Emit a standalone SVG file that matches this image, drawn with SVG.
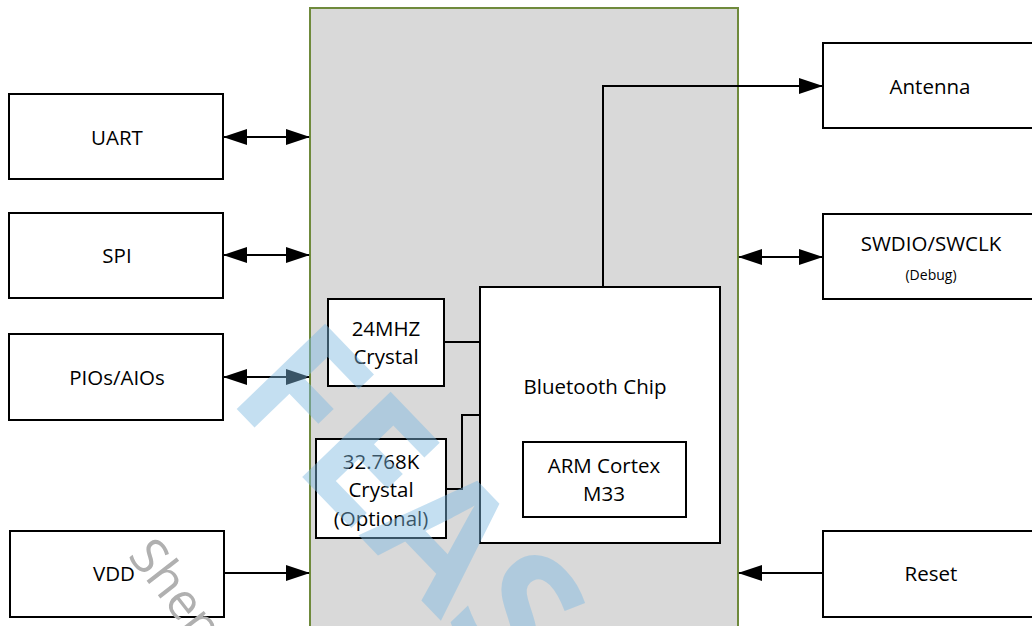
<svg xmlns="http://www.w3.org/2000/svg" width="1032" height="626" viewBox="0 0 1032 626">
<defs>
<style>
.box{fill:#fff;stroke:#000;stroke-width:2}
.lbl{font-family:"Open Sans","Liberation Sans",sans-serif;font-size:20.5px;fill:#000;text-anchor:middle;dominant-baseline:central}
.sm{font-size:14px}
.wire{fill:none;stroke:#000;stroke-width:2}
</style>
<marker id="ah" viewBox="0 0 24 16" refX="23" refY="8" markerWidth="24" markerHeight="16" markerUnits="userSpaceOnUse" orient="auto-start-reverse">
<path d="M0,0 L24,8 L0,16 Z" fill="#000"/>
</marker>
</defs>
<rect width="1032" height="626" fill="#fff"/>
<g id="module">
<rect x="310" y="8" width="428" height="630" fill="#d9d9d9" stroke="#6f8a3c" stroke-width="2"/>
</g>
<g id="connectors">
<line class="wire" x1="224" y1="137" x2="309" y2="137" marker-start="url(#ah)" marker-end="url(#ah)"/>
<line class="wire" x1="224" y1="255" x2="309" y2="255" marker-start="url(#ah)" marker-end="url(#ah)"/>
<line class="wire" x1="224" y1="377" x2="309" y2="377" marker-start="url(#ah)" marker-end="url(#ah)"/>
<line class="wire" x1="224" y1="573" x2="309" y2="573" marker-end="url(#ah)"/>
<line class="wire" x1="739" y1="257" x2="822" y2="257" marker-start="url(#ah)" marker-end="url(#ah)"/>
<line class="wire" x1="822" y1="573" x2="739" y2="573" marker-end="url(#ah)"/>
<polyline class="wire" points="603,287 603,86 822,86" marker-end="url(#ah)"/>
<polyline class="wire" points="444,342 480,342"/>
<polyline class="wire" points="446,489 462,489 462,415 480,415"/>
</g>
<g id="uart"><rect class="box" x="9" y="94" width="214" height="85"/><text class="lbl" x="117" y="137">UART</text></g>
<g id="spi"><rect class="box" x="9" y="213" width="214" height="85"/><text class="lbl" x="117" y="255">SPI</text></g>
<g id="pios"><rect class="box" x="9" y="334" width="214" height="86"/><text class="lbl" x="117" y="377">PIOs/AIOs</text></g>
<g id="vdd"><rect class="box" x="10" y="531" width="214" height="86"/><text class="lbl" x="114" y="573">VDD</text></g>
<g id="antenna"><rect class="box" x="823" y="43" width="220" height="85"/><text class="lbl" x="930" y="86">Antenna</text></g>
<g id="swd"><rect class="box" x="823" y="214" width="220" height="85"/><text class="lbl" x="931" y="243">SWDIO/SWCLK</text><text class="lbl sm" x="931" y="274">(Debug)</text></g>
<g id="reset"><rect class="box" x="823" y="531" width="220" height="86"/><text class="lbl" x="931" y="573">Reset</text></g>
<g id="xtal24"><rect class="box" x="328" y="299" width="116" height="87"/><text class="lbl" x="386" y="328">24MHZ</text><text class="lbl" x="386" y="356">Crystal</text></g>
<g id="xtal32"><rect class="box" x="316" y="439" width="130" height="99"/><text class="lbl" x="381" y="461">32.768K</text><text class="lbl" x="381" y="489">Crystal</text><text class="lbl" x="381" y="518">(Optional)</text></g>
<g id="bt"><rect class="box" x="480" y="287" width="240" height="256"/><text class="lbl" x="595" y="386">Bluetooth Chip</text></g>
<g id="arm"><rect class="box" x="523" y="442" width="163" height="75"/><text class="lbl" x="604" y="465">ARM Cortex</text><text class="lbl" x="604" y="493">M33</text></g>
<g id="watermark">
<text x="226" y="398" transform="rotate(46 226 398)" font-family="Open Sans,sans-serif" font-weight="bold" font-size="172" fill="#7ebae2" opacity="0.45">FEAS</text>
<text x="127" y="556" transform="rotate(52 127 556)" font-family="Open Sans,sans-serif" font-size="50" fill="#b0b0b0">Shen</text>
</g>
</svg>
